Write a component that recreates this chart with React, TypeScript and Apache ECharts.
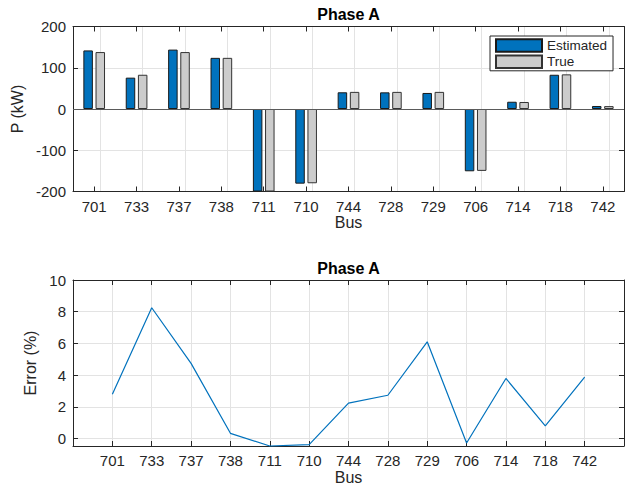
import React, { useEffect, useRef } from 'react';
import * as echarts from 'echarts';

const categories = ['701', '733', '737', '738', '711', '710', '744', '728', '729', '706', '714', '718', '742'];
const estimatedKW = [142, 76, 144, 124, -200, -181, 40.5, 40.4, 38.9, -151, 17.6, 83, 7.3];
const trueKW = [138, 83, 138, 124, -200, -180, 41.5, 41.5, 41.5, -150, 17, 84, 7];
const errorPct = [2.8, 8.25, 4.74, 0.33, -0.47, -0.38, 2.23, 2.73, 6.1, -0.28, 3.79, 0.8, 3.87];
const errorTicks = [0, 2, 4, 6, 8, 10];
const errorMin = -0.47;
const seriesNames = ['Estimated', 'True'];
const plotTitle = 'Phase A';

export default function App() {
  const ref = useRef<HTMLDivElement>(null);
  useEffect(() => {
    const chart = echarts.init(ref.current!, null, { renderer: 'svg' });
    const font = "'Liberation Sans', Arial, Helvetica, sans-serif";
    const ink = '#262626';
    const gridColor = '#e3e3e3';
    const tickFont = 15;
    const G1 = { left: 73, top: 26.5, width: 551, height: 165 };
    const G2 = { left: 73, top: 280, width: 551, height: 166 };
    const line = { show: true, onZero: false, lineStyle: { color: ink, width: 1 } };
    const tick = { show: true, inside: true, length: 5, lineStyle: { color: ink, width: 1 } };
    const label = { color: ink, fontSize: tickFont, fontFamily: font, margin: 7 };
    const nameStyle = { color: ink, fontSize: 16, fontFamily: font };
    const split = { show: true, lineStyle: { color: gridColor, width: 1 } };

    chart.setOption({
      animation: false,
      textStyle: { fontFamily: font },
      grid: [
        { ...G1, containLabel: false },
        { ...G2, containLabel: false },
      ],
      graphic: [
        {
          type: 'text', x: G1.left + G1.width / 2, y: 14,
          style: { text: plotTitle, fontSize: 16, fontWeight: 'bold', fill: '#000', font: `bold 16px ${font}`, textAlign: 'center', textVerticalAlign: 'middle' },
        },
        {
          type: 'text', x: G2.left + G2.width / 2, y: 268,
          style: { text: plotTitle, fontSize: 16, fontWeight: 'bold', fill: '#000', font: `bold 16px ${font}`, textAlign: 'center', textVerticalAlign: 'middle' },
        },
      ],
      legend: {
        data: seriesNames,
        orient: 'vertical',
        left: 490,
        top: 36,
        icon: 'rect',
        itemWidth: 46,
        itemHeight: 12.5,
        itemGap: 1.3,
        padding: [2, 6, 1.5, 5],
        borderColor: ink,
        borderWidth: 1,
        backgroundColor: '#fff',
        textStyle: { color: ink, fontSize: 13.5, lineHeight: 15, fontFamily: font },
      },
      xAxis: [
        {
          gridIndex: 0, type: 'category', data: categories, position: 'bottom', boundaryGap: true,
          axisLine: line, axisTick: { ...tick, alignWithLabel: true }, axisLabel: label,
          splitLine: { show: false },
          name: 'Bus', nameLocation: 'middle', nameGap: 22, nameTextStyle: nameStyle,
        },
        {
          gridIndex: 0, type: 'category', data: categories, position: 'top', boundaryGap: true,
          axisLine: line, axisTick: { ...tick, alignWithLabel: true }, axisLabel: { show: false },
          splitLine: { show: false },
        },
        {
          gridIndex: 1, type: 'value', min: 0, max: categories.length + 1, interval: 1, position: 'bottom',
          axisLine: line, axisTick: tick,
          axisLabel: { ...label, formatter: (v: number) => categories[v - 1] ?? '' },
          splitLine: split,
          name: 'Bus', nameLocation: 'middle', nameGap: 23, nameTextStyle: nameStyle,
        },
        {
          gridIndex: 1, type: 'value', min: 0, max: categories.length + 1, interval: 1, position: 'top',
          axisLine: line, axisTick: tick, axisLabel: { show: false }, splitLine: { show: false },
        },
      ],
      yAxis: [
        {
          gridIndex: 0, type: 'value', min: -200, max: 200, interval: 100, position: 'left',
          axisLine: line, axisTick: tick, axisLabel: label, splitLine: split,
          name: 'P (kW)', nameLocation: 'middle', nameGap: 43, nameRotate: 90, nameTextStyle: nameStyle,
        },
        {
          gridIndex: 0, type: 'value', min: -200, max: 200, interval: 100, position: 'right',
          axisLine: line, axisTick: tick, axisLabel: { show: false }, splitLine: { show: false },
        },
        {
          gridIndex: 1, type: 'value', min: errorMin, max: 10, position: 'left',
          axisLine: line, axisTick: { ...tick, customValues: errorTicks },
          axisLabel: { ...label, customValues: errorTicks }, splitLine: split,
          name: 'Error (%)', nameLocation: 'middle', nameGap: 28, nameRotate: 90, nameTextStyle: nameStyle,
        },
        {
          gridIndex: 1, type: 'value', min: errorMin, max: 10, position: 'right',
          axisLine: line, axisTick: { ...tick, customValues: errorTicks },
          axisLabel: { show: false, customValues: errorTicks }, splitLine: { show: false },
        },
      ],
      series: [
        {
          name: seriesNames[0], type: 'bar', xAxisIndex: 0, yAxisIndex: 0, data: estimatedKW,
          barWidth: 9.5, barGap: '28%',
          itemStyle: { color: '#0072BD', borderColor: '#1a1a1a', borderWidth: 1 },
          markLine: {
            silent: true, symbol: 'none', label: { show: false },
            lineStyle: { color: '#5a5a5a', width: 1, type: 'solid' },
            data: [{ yAxis: 0 }],
          },
        },
        {
          name: seriesNames[1], type: 'bar', xAxisIndex: 0, yAxisIndex: 0, data: trueKW,
          barWidth: 9.5, barGap: '28%',
          itemStyle: { color: '#CCCCCC', borderColor: '#333', borderWidth: 1 },
          markLine: {
            silent: true, symbol: 'none', label: { show: false }, z: 0,
            lineStyle: { color: gridColor, width: 1, type: 'solid' },
            data: categories.map((c) => ({ xAxis: c })),
          },
        },
        {
          name: 'Error', type: 'line', xAxisIndex: 2, yAxisIndex: 2,
          data: errorPct.map((v, i) => [i + 1, v]),
          showSymbol: false, clip: false,
          lineStyle: { color: '#0072BD', width: 1.2 },
        },
      ],
    });
    return () => chart.dispose();
  }, []);
  return <div ref={ref} style={{ position: 'fixed', left: 0, top: 0, width: 630, height: 486, background: '#fff' }} />;
}
